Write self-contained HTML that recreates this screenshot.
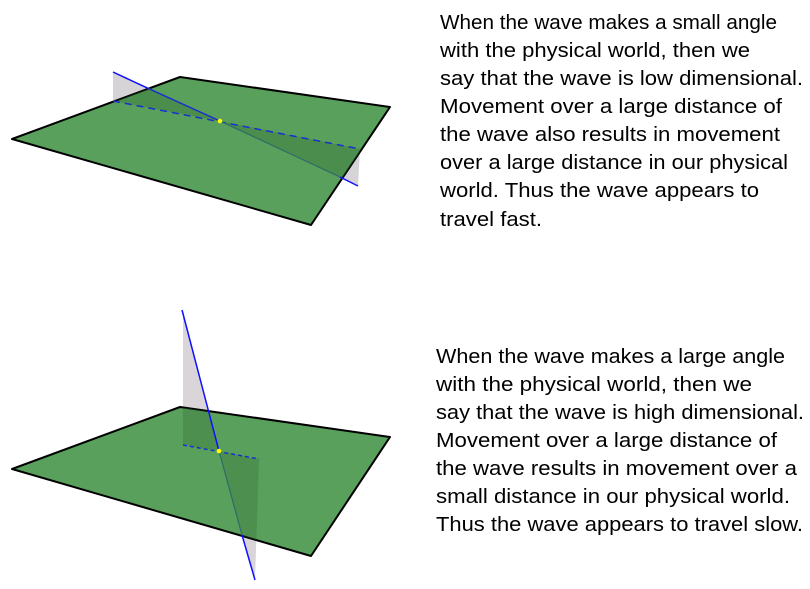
<!DOCTYPE html>
<html><head><meta charset="utf-8"><style>
html,body{margin:0;padding:0;background:#fff;}
svg{display:block}
text{font-family:"Liberation Sans",sans-serif;font-size:20px;fill:#000}
</style></head><body>
<svg width="810" height="589" viewBox="0 0 810 589" xmlns="http://www.w3.org/2000/svg">
<defs>
<clipPath id="p1"><polygon points="12,139 180,77 390,107 311,225"/></clipPath>
<clipPath id="p2"><polygon points="12,469 180,407 390,437 311,556"/></clipPath>
</defs>
<polygon points="113,72 113,101 220,121" fill="#d6d4d6"/>
<polygon points="220,121 360,149 358,186" fill="#d6d4d6"/>
<polygon points="12,139 180,77 390,107 311,225" fill="#59a05c" stroke="#000" stroke-width="2" stroke-linejoin="round"/>
<g clip-path="url(#p1)" fill="#2f6b32" fill-opacity="0.35">
<polygon points="113,72 113,101 220,121"/>
<polygon points="220,121 360,149 358,186"/>
</g>
<line x1="113" y1="101" x2="360" y2="149" stroke="#1a2fd0" stroke-width="1.5" stroke-dasharray="7,5"/>
<line x1="113" y1="72" x2="148" y2="88.3" stroke="#1010ff" stroke-width="1.5"/>
<line x1="148" y1="88.3" x2="220" y2="121" stroke="#1a2fd0" stroke-width="1.5"/>
<line x1="220" y1="121" x2="340" y2="177" stroke="#2e6b6a" stroke-width="1.2"/>
<line x1="340" y1="177" x2="358" y2="186" stroke="#1010ff" stroke-width="1.5"/>
<circle cx="220" cy="121" r="2.3" fill="#ffff00"/>
<polygon points="183,310 183,445 219,451" fill="#d9d5d9"/>
<polygon points="219,451 259,459 255,580" fill="#d9d5d9"/>
<polygon points="12,469 180,407 390,437 311,556" fill="#59a05c" stroke="#000" stroke-width="2" stroke-linejoin="round"/>
<g clip-path="url(#p2)" fill="#2f6b32" fill-opacity="0.3">
<polygon points="183,310 183,445 219,451"/>
<polygon points="219,451 259,459 255,580"/>
</g>
<line x1="183" y1="445" x2="259" y2="459" stroke="#1a2fd0" stroke-width="1.5" stroke-dasharray="4,3"/>
<line x1="182" y1="310" x2="219" y2="451" stroke="#1010ff" stroke-width="1.5"/>
<line x1="219" y1="451" x2="242" y2="535" stroke="#2e6b6a" stroke-width="1.2"/>
<line x1="242" y1="535" x2="255" y2="580" stroke="#1010ff" stroke-width="1.5"/>
<circle cx="219" cy="451" r="2.3" fill="#ffff00"/>
<text x="440" y="29" textLength="337" lengthAdjust="spacingAndGlyphs">When the wave makes a small angle</text>
<text x="440" y="57" textLength="310" lengthAdjust="spacingAndGlyphs">with the physical world, then we</text>
<text x="440" y="85" textLength="363" lengthAdjust="spacingAndGlyphs">say that the wave is low dimensional.</text>
<text x="440" y="113" textLength="342" lengthAdjust="spacingAndGlyphs">Movement over a large distance of</text>
<text x="440" y="141" textLength="340" lengthAdjust="spacingAndGlyphs">the wave also results in movement</text>
<text x="440" y="169" textLength="348" lengthAdjust="spacingAndGlyphs">over a large distance in our physical</text>
<text x="440" y="197" textLength="319" lengthAdjust="spacingAndGlyphs">world. Thus the wave appears to</text>
<text x="440" y="226" textLength="102" lengthAdjust="spacingAndGlyphs">travel fast.</text>
<text x="436" y="363" textLength="349" lengthAdjust="spacingAndGlyphs">When the wave makes a large angle</text>
<text x="436" y="391" textLength="316" lengthAdjust="spacingAndGlyphs">with the physical world, then we</text>
<text x="436" y="419" textLength="368" lengthAdjust="spacingAndGlyphs">say that the wave is high dimensional.</text>
<text x="436" y="447" textLength="341" lengthAdjust="spacingAndGlyphs">Movement over a large distance of</text>
<text x="436" y="475" textLength="361" lengthAdjust="spacingAndGlyphs">the wave results in movement over a</text>
<text x="436" y="503" textLength="354" lengthAdjust="spacingAndGlyphs">small distance in our physical world.</text>
<text x="436" y="531" textLength="367" lengthAdjust="spacingAndGlyphs">Thus the wave appears to travel slow.</text>
</svg>
</body></html>
